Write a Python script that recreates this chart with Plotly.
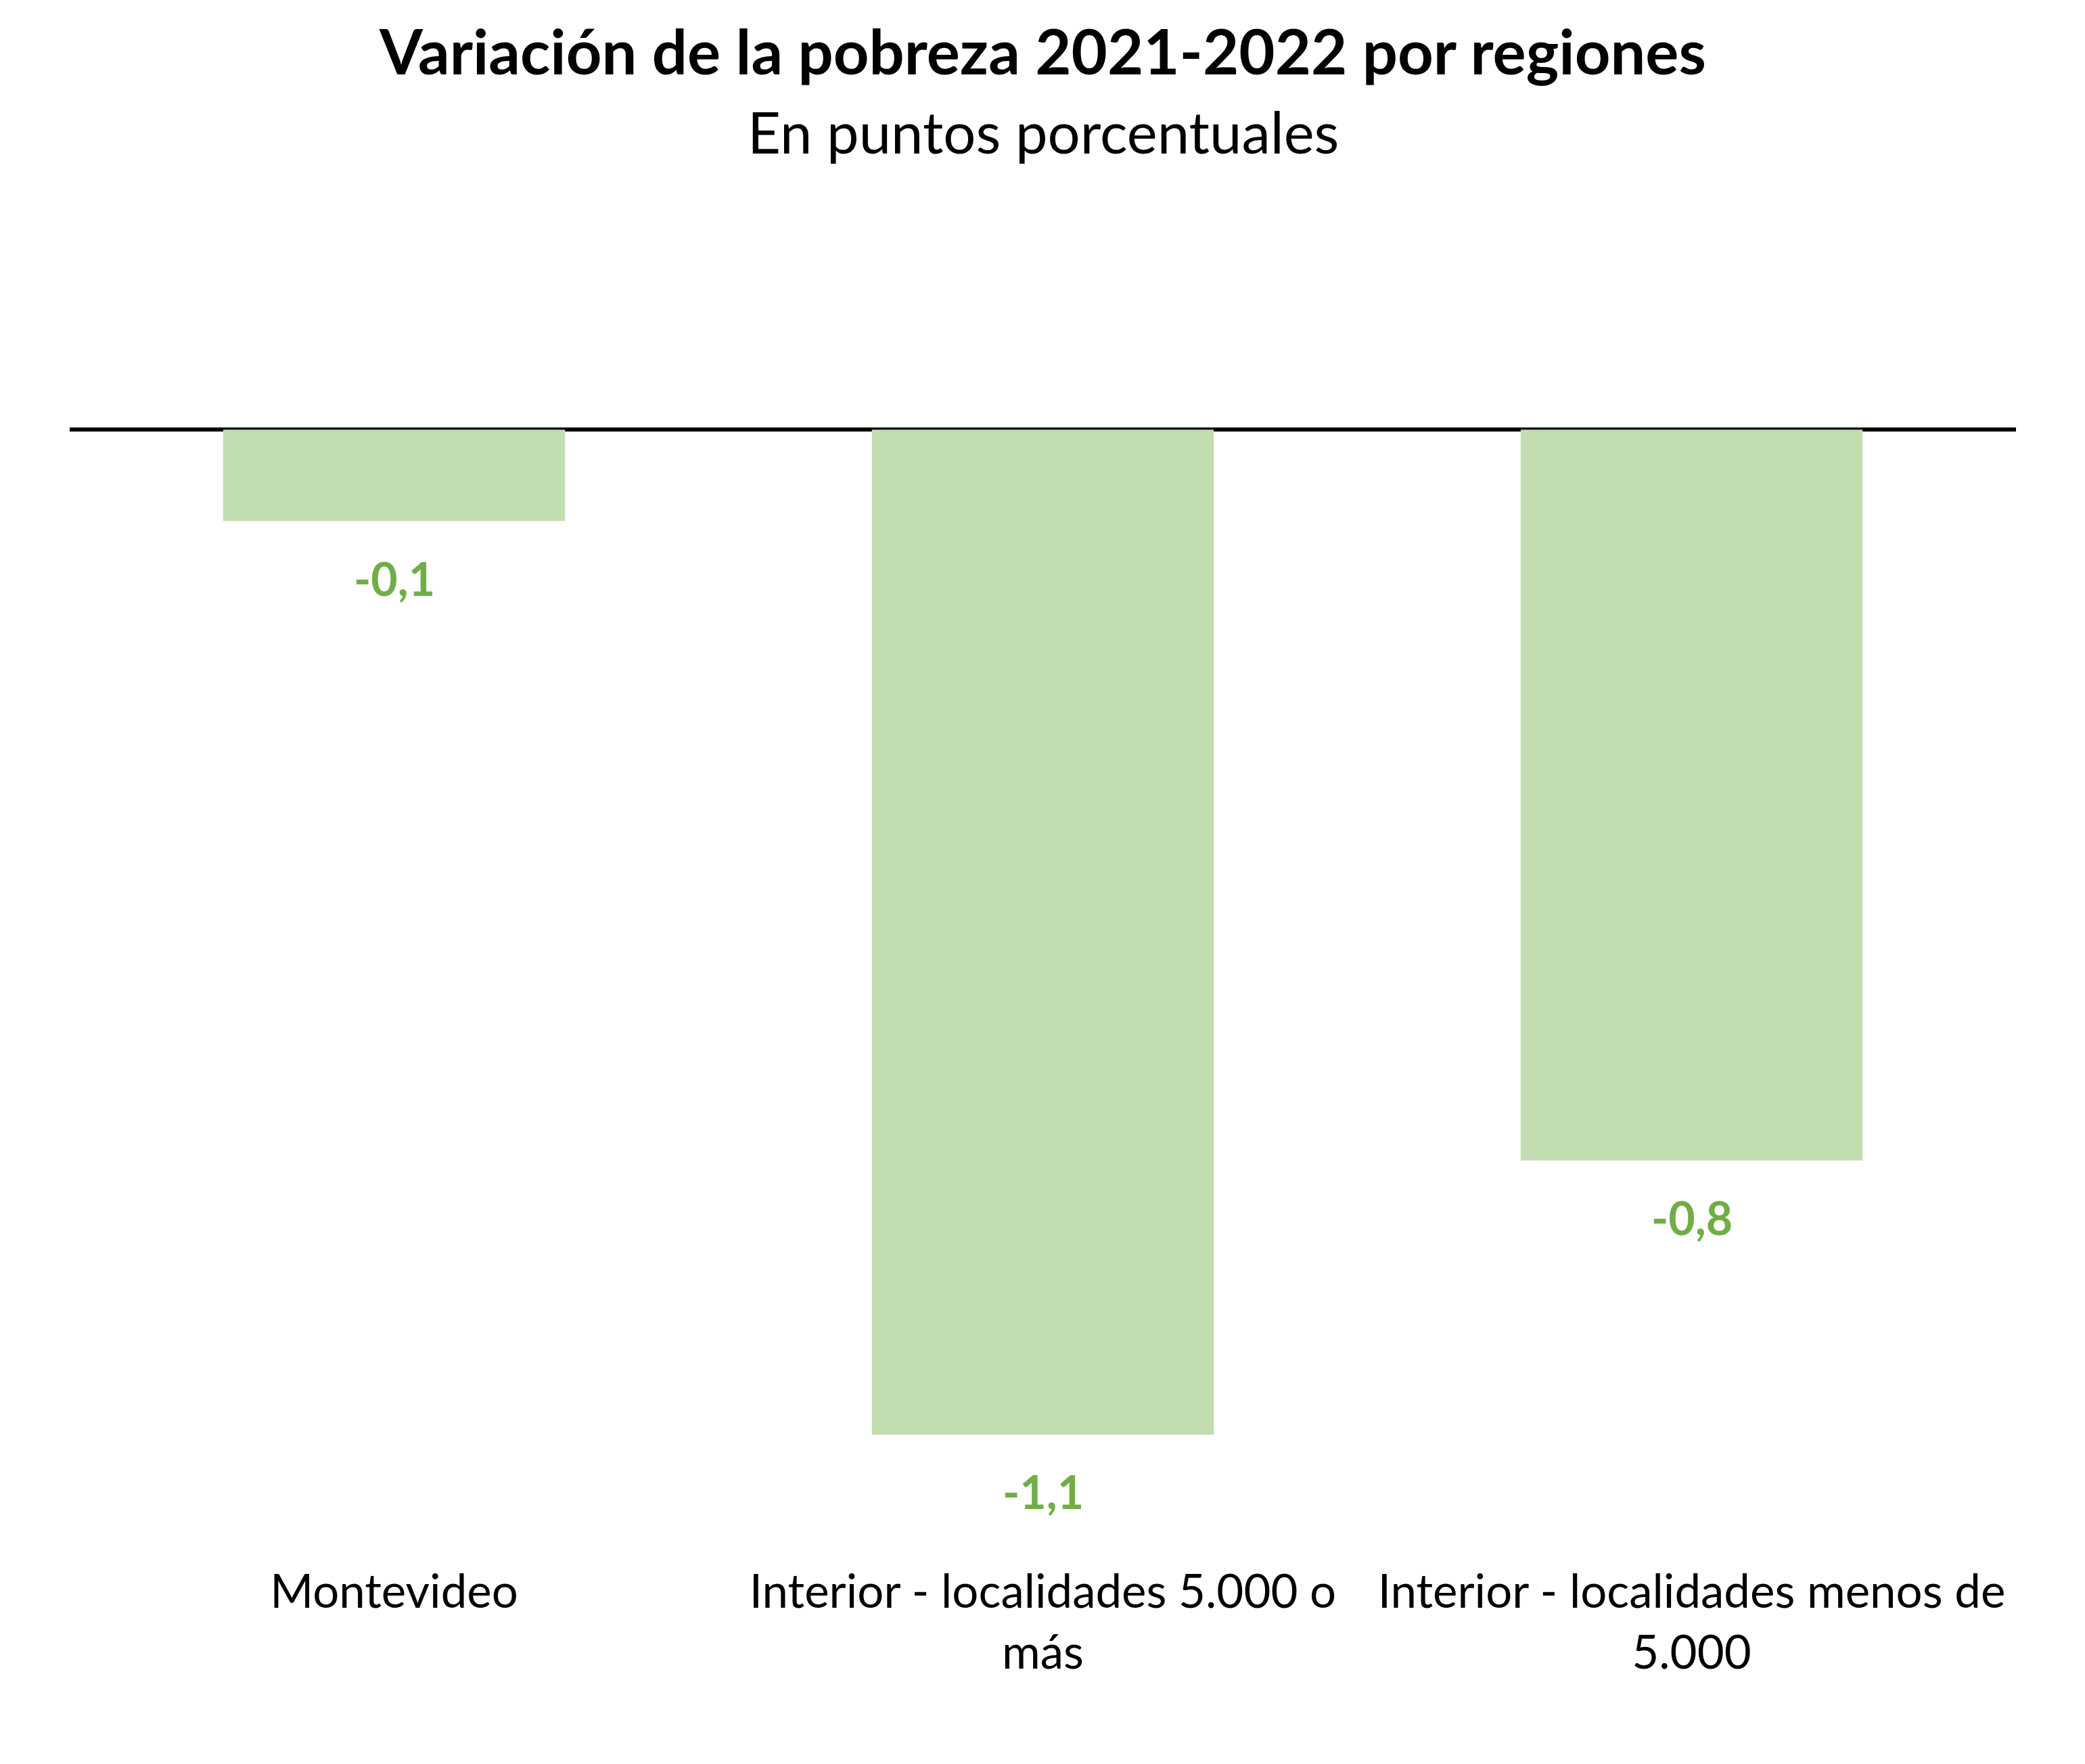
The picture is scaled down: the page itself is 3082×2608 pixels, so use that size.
import plotly.graph_objects as go

categories = ["Montevideo", "Interior - localidades 5.000 o<br>más", "Interior - localidades menos de<br>5.000"]
values = [-0.1, -1.1, -0.8]
labels = [f"{v:.1f}".replace(".", ",") for v in values]

title_text = "Variación de la pobreza 2021-2022 por regiones"
subtitle_text = "En puntos porcentuales"

BAR = "#C2DDAF"
LBL = "#70AD47"
FONT = "Lato"

W, H = 3082, 2608
OFF = 8  # page body margin
top, bottom = 222, 2275
plot_h = bottom - top

fig = go.Figure()
fig.add_trace(go.Bar(x=categories, y=values, marker=dict(color=BAR, line=dict(width=0)),
                     width=0.527, hoverinfo="skip"))

ann = [
    dict(xref="paper", yref="paper", x=0.5, y=1 + (top - (194 - OFF)) / plot_h, yanchor="middle",
         xanchor="center", text=subtitle_text, showarrow=False,
         font=dict(family=FONT, size=85, color="black")),
]
ann += [
    dict(x=c, y=v, text=f"<b>{t}</b>", showarrow=False, yanchor="middle",
         yshift=-84, font=dict(family=FONT, size=68, color=LBL))
    for c, v, t in zip(categories, values, labels)
]

fig.update_layout(
    width=W, height=H,
    margin=dict(l=95, r=110, t=top, b=H - bottom, pad=0),
    paper_bgcolor="white", plot_bgcolor="white",
    showlegend=False,
    font=dict(family=FONT, color="black"),
    title=dict(text=f"<b>{title_text}</b>", x=0.5, xanchor="center", xref="paper",
               y=1 - (78 - OFF) / H, yanchor="middle", yref="container",
               font=dict(family=FONT, size=92, color="black")),
    annotations=ann,
)
fig.update_xaxes(showline=False, showgrid=False, ticks="", tickfont=dict(family=FONT, size=69, color="black"),
                 ticklabelstandoff=24)
fig.update_yaxes(range=[-1.22, 0.3], showgrid=False, showticklabels=False, zeroline=True,
                 zerolinecolor="black", zerolinewidth=6, showline=False)

fig.write_html("out.html")
